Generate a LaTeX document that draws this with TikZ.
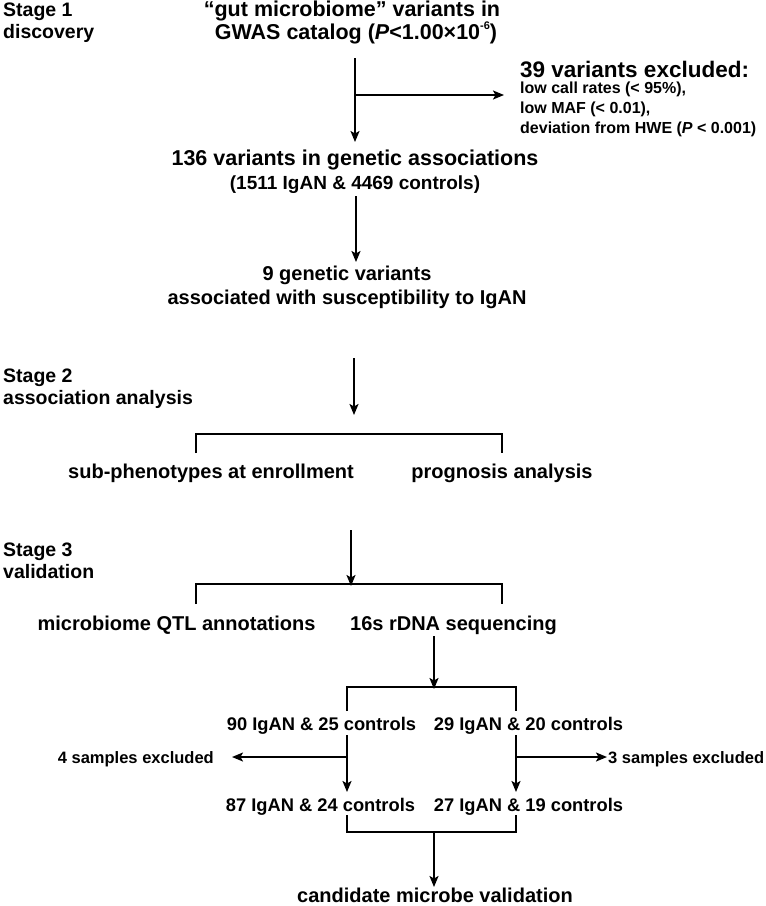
\documentclass[tikz,border=0pt]{standalone}
\usepackage{fontspec}
\setmainfont{Liberation Sans}
\usetikzlibrary{arrows.meta}
\newcommand\fsBig{\fontsize{21.5}{24}\selectfont\bfseries}
\newcommand\fsExh{\fontsize{22.5}{24}\selectfont\bfseries}
\newcommand\fsStage{\fontsize{19.5}{22}\selectfont\bfseries}
\newcommand\fsMid{\fontsize{20}{22}\selectfont\bfseries}
\newcommand\fsSub{\fontsize{19}{22}\selectfont\bfseries}
\newcommand\fsGrp{\fontsize{18.3}{20}\selectfont\bfseries}
\newcommand\fsExc{\fontsize{16.5}{18}\selectfont\bfseries}
\newcommand\fsSmall{\fontsize{16}{17}\selectfont\bfseries}
\begin{document}
\begin{tikzpicture}[x=1pt,y=-1pt,
  lbl/.style={inner sep=0pt},
  arr/.style={line width=1.7pt,-{Stealth[length=11pt,width=9pt,inset=2.5pt]}},
  ln/.style={line width=1.7pt},
]
\useasboundingbox (0,0) rectangle (766,906);
% Stage labels
\node[lbl,anchor=base west,font=\fsStage] (s1a) at (3,16) {Stage 1};
\node[lbl,anchor=base west,font=\fsStage] (s1b) at (3,38) {discovery};
\node[lbl,anchor=base west,font=\fsStage] (s2a) at (3,382) {Stage 2};
\node[lbl,anchor=base west,font=\fsStage] (s2b) at (3,404) {association analysis};
\node[lbl,anchor=base west,font=\fsStage] (s3a) at (3,556) {Stage 3};
\node[lbl,anchor=base west,font=\fsStage] (s3b) at (3,578) {validation};
% Stage 1
\node[lbl,anchor=base,font=\fsBig] (t1) at (352,16) {“gut microbiome” variants in};
\node[lbl,anchor=base,font=\fsBig] (t2) at (356,39) {GWAS catalog (\textit{P}<1.00×10\raisebox{0.42em}{\fontsize{11}{11}\selectfont -6})};
\node[lbl,anchor=base west,font=\fsExh] (ex) at (520,77) {39 variants excluded:};
\node[lbl,anchor=base west,font=\fsSmall] (ex1) at (520,93) {low call rates (< 95\%),};
\node[lbl,anchor=base west,font=\fsSmall] (ex2) at (520,113) {low MAF (< 0.01),};
\node[lbl,anchor=base west,font=\fsSmall] (ex3) at (520,133) {deviation from HWE (\textit{P} < 0.001)};
\node[lbl,anchor=base,font=\fsBig] (v136) at (355,165) {136 variants in genetic associations};
\node[lbl,anchor=base,font=\fsSub] (v136b) at (355,189) {(1511 IgAN \& 4469 controls)};
\node[lbl,anchor=base,font=\fsMid] (v9) at (347,280) {9 genetic variants};
\node[lbl,anchor=base,font=\fsMid] (v9b) at (347,304) {associated with susceptibility to IgAN};
\coordinate (a1s) at (355,58);
\coordinate (a1b) at (355,95);
\coordinate (a1e) at (355,142);
\coordinate (a1r) at (504,95);
\draw[arr] (a1s) -- (a1e);
\draw[arr] (a1b) -- (a1r);
\coordinate (a2s) at (356,196);
\coordinate (a2e) at (356,262);
\draw[arr] (a2s) -- (a2e);
% Stage 2
\coordinate (a3s) at (354,358);
\coordinate (a3e) at (354,415);
\draw[arr] (a3s) -- (a3e);
\node[lbl,anchor=base,font=\fsMid] (sub) at (211,478) {sub-phenotypes at enrollment};
\node[lbl,anchor=base,font=\fsMid] (prog) at (502,478) {prognosis analysis};
\coordinate (b1l) at (196,434);
\coordinate (b1r) at (502,434);
\draw[ln] (b1l |- 0,453) -- (b1l) -- (b1r) -- (b1r |- 0,453);
% Stage 3
\coordinate (a4s) at (351,530);
\coordinate (a4e) at (351,586);
\draw[arr] (a4s) -- (a4e);
\coordinate (b2l) at (196,584);
\coordinate (b2r) at (502,584);
\draw[ln] (b2l |- 0,604) -- (b2l) -- (b2r) -- (b2r |- 0,604);
\node[lbl,anchor=base,font=\fsMid] (qtl) at (176.5,630) {microbiome QTL annotations};
\node[lbl,anchor=base,font=\fsMid] (seq) at (453.5,630) {16s rDNA sequencing};
\coordinate (a5s) at (434,636);
\coordinate (a5e) at (434,689);
\draw[arr] (a5s) -- (a5e);
\coordinate (b3l) at (347,687);
\coordinate (b3r) at (516,687);
\draw[ln] (b3l |- 0,711) -- (b3l) -- (b3r) -- (b3r |- 0,711);
\node[lbl,anchor=base,font=\fsGrp] (g1) at (321.5,730) {90 IgAN \& 25 controls};
\node[lbl,anchor=base,font=\fsGrp] (g2) at (528.5,730) {29 IgAN \& 20 controls};
\node[lbl,anchor=base east,font=\fsExc] (x1) at (214,763) {4 samples excluded};
\node[lbl,anchor=base west,font=\fsExc] (x2) at (608,763) {3 samples excluded};
\coordinate (l1s) at (347,735);
\coordinate (l1m) at (347,757);
\coordinate (l1e) at (347,792);
\coordinate (r1s) at (516,735);
\coordinate (r1m) at (516,757);
\coordinate (r1e) at (516,792);
\coordinate (l1x) at (232,757);
\coordinate (r1x) at (607,757);
\draw[arr] (l1s) -- (l1e);
\draw[arr] (r1s) -- (r1e);
\draw[arr] (l1m) -- (l1x);
\draw[arr] (r1m) -- (r1x);
\node[lbl,anchor=base,font=\fsGrp] (g3) at (320.5,811) {87 IgAN \& 24 controls};
\node[lbl,anchor=base,font=\fsGrp] (g4) at (528.5,811) {27 IgAN \& 19 controls};
\coordinate (b4l) at (347,832);
\coordinate (b4r) at (516,832);
\draw[ln] (b4l |- 0,815) -- (b4l) -- (b4r) -- (b4r |- 0,815);
\coordinate (a6s) at (434,832);
\coordinate (a6e) at (434,887);
\draw[arr] (a6s) -- (a6e);
\node[lbl,anchor=base,font=\fsMid] (cand) at (435,902) {candidate microbe validation};
\end{tikzpicture}
\end{document}
